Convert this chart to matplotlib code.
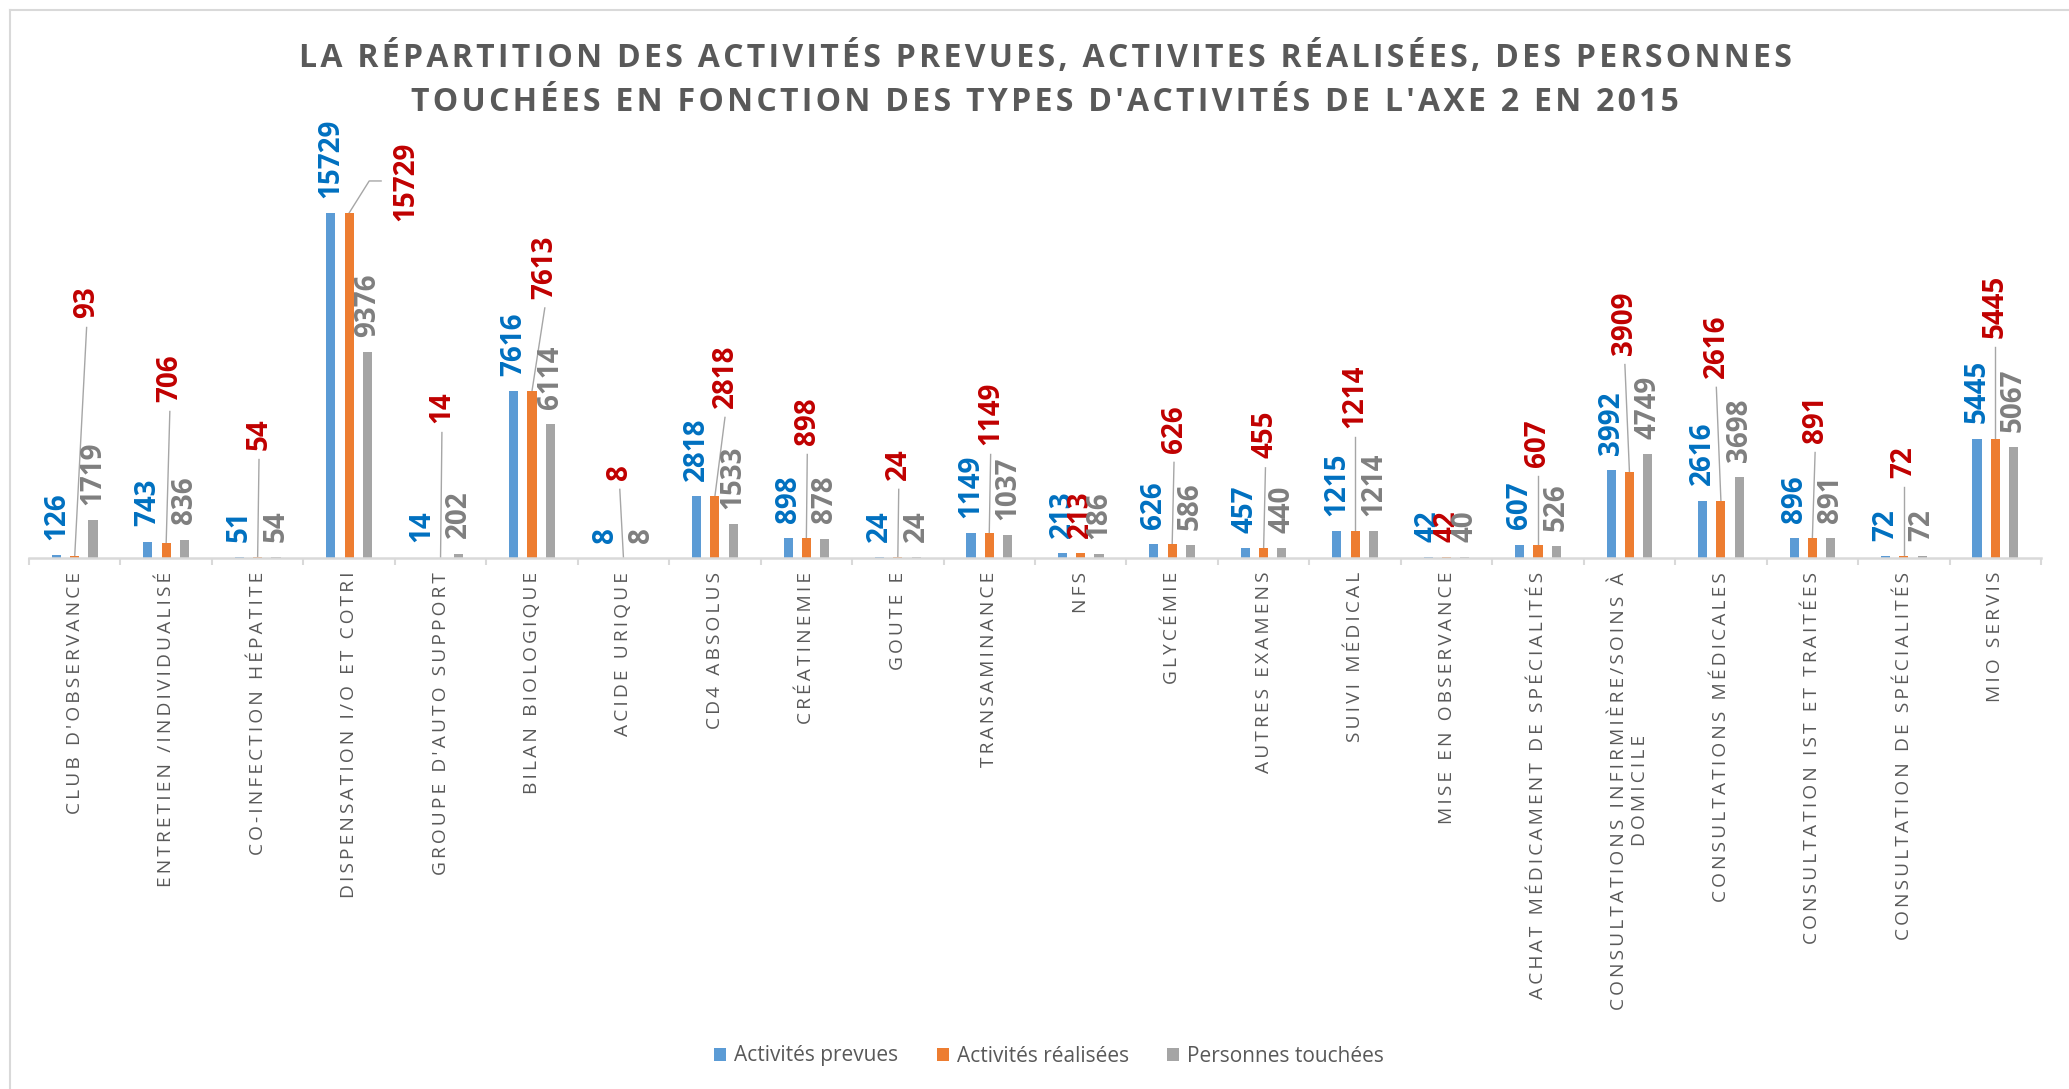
""" Activités prévues / réalisées / personnes touchées - Axe 2, 2015 """

import numpy as np
import matplotlib
matplotlib.use('Agg')
from matplotlib import pyplot as plt

# Data.
categories = [
    "CLUB D'OBSERVANCE", "ENTRETIEN /INDIVIDUALISÉ", "CO-INFECTION HÉPATITE",
    "DISPENSATION I/O ET COTRI", "GROUPE D'AUTO SUPPORT", "BILAN BIOLOGIQUE",
    "ACIDE URIQUE", "CD4 ABSOLUS", "CRÉATINEMIE", "GOUTE E", "TRANSAMINANCE",
    "NFS", "GLYCÉMIE", "AUTRES EXAMENS", "SUIVI MÉDICAL", "MISE EN OBSERVANCE",
    "ACHAT MÉDICAMENT DE SPÉCIALITÉS",
    "CONSULTATIONS INFIRMIÈRE/SOINS À\nDOMICILE",
    "CONSULTATIONS MÉDICALES", "CONSULTATION IST ET TRAITÉES",
    "CONSULTATION DE SPÉCIALITÉS", "MIO SERVIS",
]
prevues = [126, 743, 51, 15729, 14, 7616, 8, 2818, 898, 24, 1149,
           213, 626, 457, 1215, 42, 607, 3992, 2616, 896, 72, 5445]
realisees = [93, 706, 54, 15729, 14, 7613, 8, 2818, 898, 24, 1149,
             213, 626, 455, 1214, 42, 607, 3909, 2616, 891, 72, 5445]
touchees = [1719, 836, 54, 9376, 202, 6114, 8, 1533, 878, 24, 1037,
            186, 586, 440, 1214, 40, 526, 4749, 3698, 891, 72, 5067]

series_names = ['Activités prevues', 'Activités réalisées', 'Personnes touchées']
title_lines = ["LA RÉPARTITION DES ACTIVITÉS PREVUES, ACTIVITES RÉALISÉES, DES PERSONNES",
               "TOUCHÉES EN FONCTION DES TYPES D'ACTIVITÉS DE L'AXE 2 EN 2015"]

# Layout of the moved "réalisées" labels (bottom of label, in axis units;
# None = default place above the bar). Index 3 sits beside its bar.
red_label_y = [10940, 7110, 4920, 17190, 6150, 11830, 3560, 6840, 5150, 3560, 5150,
               None, 4790, 4540, 5930, None, 4150, 9250, 8210, 5240, 3650, 10030]
red_label_dx = [0.13, 0.04, 0.015, 0.62, 0.015, 0.14, -0.04, 0.11, 0.01, 0.01, 0.015,
                0.0, 0.02, 0.02, 0.0, 0.0, 0.0, -0.05, -0.05, 0.03, 0.0, 0.0]
SIDE_LABEL = 3

bar_colors = ['#5B9BD5', '#ED7D31', '#A5A5A5']
label_colors = ['#0070C0', '#C00000', '#7F7F7F']
text_grey = '#595959'
axis_grey = '#D9D9D9'
leader_grey = '#A6A6A6'
font = ['Open Sans', 'DejaVu Sans']


def spaced(s, sep='\u2009'):
    return '\n'.join(sep.join(line) for line in s.split('\n'))


W, H = 2069, 1089
fig = plt.figure(figsize=(W / 100, H / 100), dpi=100)
ax = fig.add_axes([29 / W, 1 - 558 / H, 2012 / W, 394.8 / H])

x = np.arange(len(categories))
width = 0.1
bars = []
for k, vals in enumerate([prevues, realisees, touchees]):
    bars.append(ax.bar(x + (k - 1) * 0.2, vals, width, color=bar_colors[k],
                       label=series_names[k], zorder=2))

ax.set_xlim(-0.5, len(categories) - 0.5)
ax.set_ylim(0, 18000)

# Data labels
lab_kw = dict(rotation=90, fontsize=20, fontweight='bold', family=font)
for k, vals in enumerate([prevues, realisees, touchees]):
    for i, v in enumerate(vals):
        xi = i + (k - 1) * 0.2
        if k == 1 and red_label_y[i] is not None:
            lx = i + red_label_dx[i]
            ly = red_label_y[i]
            if i == SIDE_LABEL:
                ax.text(lx, ly, str(v), ha='center', va='center',
                        color=label_colors[k], **lab_kw)
                ax.plot([xi, xi + 0.22, xi + 0.35], [v, ly, ly],
                        color=leader_grey, lw=1, zorder=1)
            else:
                ax.text(lx, ly, str(v), ha='center', va='bottom',
                        color=label_colors[k], **lab_kw)
                ax.plot([xi, lx], [v, ly - 430], color=leader_grey, lw=1, zorder=1)
        else:
            ax.annotate(str(v), (xi, v), xytext=(0, 11), textcoords='offset points',
                        ha='center', va='bottom', color=label_colors[k], **lab_kw)

# Axis styling
for side in ['top', 'left', 'right']:
    ax.spines[side].set_visible(False)
ax.spines['bottom'].set_color(axis_grey)
ax.spines['bottom'].set_linewidth(1.8)
ax.set_yticks([])
ax.set_xticks(x, [spaced(c) for c in categories], rotation=90,
              fontsize=13.75, color=text_grey, family=font)
ax.set_xticks(np.arange(len(categories) + 1) - 0.5, minor=True)
ax.tick_params(axis='x', which='major', length=0, pad=10)
ax.tick_params(axis='x', which='minor', length=5, width=1.5, color=axis_grey)

# Title
for j, line in enumerate(title_lines):
    fig.text(1045 / W, 1 - (58 + 44 * j) / H, spaced(line, '\u200a'),
             ha='center', va='center', fontsize=23, fontweight='bold',
             color=text_grey, family=font)

# Legend
fig.legend(handles=bars, labels=series_names, loc='center',
           bbox_to_anchor=(1049 / W, 1 - 1056 / H), ncol=3, frameon=False,
           handlelength=0.58, handleheight=0.58,
           handletextpad=0.38, columnspacing=1.83, labelcolor=text_grey,
           prop={'family': font, 'size': 15})

# Chart border
fig.add_artist(plt.Line2D([10 / W, 10 / W], [0, 1 - 10 / H],
                          transform=fig.transFigure, color=axis_grey, lw=1.5))
fig.add_artist(plt.Line2D([10 / W, 1], [1 - 10 / H, 1 - 10 / H],
                          transform=fig.transFigure, color=axis_grey, lw=1.5))

fig.savefig('out.png', dpi=100)
